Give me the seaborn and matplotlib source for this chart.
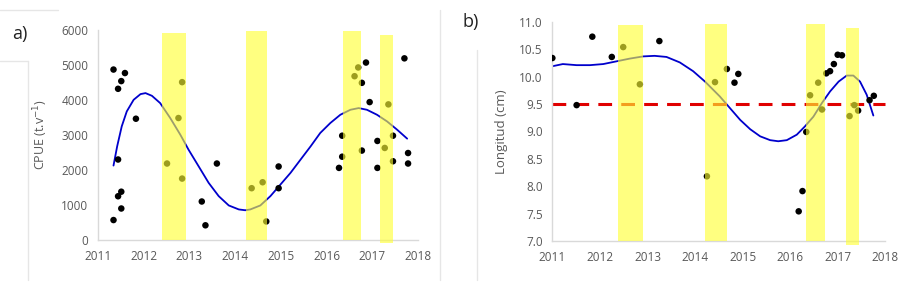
import numpy as np
import pandas as pd
import matplotlib.pyplot as plt
import seaborn as sns
from matplotlib.lines import Line2D

# ---------------- panel a) CPUE ----------------
a_year = [2011.34, 2011.44, 2011.51, 2011.59, 2011.44, 2011.34, 2011.44, 2011.51, 2011.51,
          2011.83, 2012.51, 2012.76, 2012.84, 2012.84, 2013.27, 2013.35, 2013.60,
          2014.36, 2014.60, 2014.68, 2014.95, 2014.95, 2016.27, 2016.34, 2016.34,
          2016.61, 2016.69, 2016.77, 2016.77, 2016.86, 2016.94, 2017.11, 2017.11,
          2017.27, 2017.35, 2017.45, 2017.45, 2017.70, 2017.78, 2017.78]
a_cpue = [4870, 4320, 4540, 4770, 2300, 570, 1250, 1380, 900,
          3465, 2185, 3485, 4510, 1755, 1100, 420, 2185,
          1480, 1650, 530, 2100, 1480, 2060, 2980, 2380,
          4680, 4930, 4490, 2555, 5070, 3940, 2830, 2060,
          2630, 3875, 2980, 2250, 5190, 2485, 2185]

a_trend_x = [2011.34, 2011.42, 2011.52, 2011.63, 2011.78, 2011.93, 2012.04, 2012.18,
             2012.36, 2012.58, 2012.80, 2012.98, 2013.20, 2013.42, 2013.64, 2013.86,
             2014.08, 2014.22, 2014.33, 2014.55, 2014.77, 2014.99, 2015.21, 2015.43,
             2015.65, 2015.86, 2016.08, 2016.30, 2016.52, 2016.70, 2016.88, 2017.10,
             2017.32, 2017.54, 2017.76]
a_trend_y = [2127, 2677, 3247, 3674, 4006, 4168, 4197, 4120,
             3912, 3485, 3010, 2582, 2108, 1633, 1253, 987,
             873, 850, 873, 987, 1253, 1585, 1918, 2298,
             2677, 3058, 3342, 3579, 3721, 3769, 3721, 3579,
             3389, 3152, 2896]

a_band_start = [2012.39, 2014.24, 2016.36, 2017.16]
a_band_end = [2012.93, 2014.70, 2016.76, 2017.45]
a_band_bottom = [0, 0, 0, -95]
a_band_top = [5925, 5970, 5970, 5850]

# ---------------- panel b) Longitud ----------------
b_year = [2011.00, 2011.51, 2011.84, 2012.25, 2012.49, 2012.84, 2013.25, 2014.25,
          2014.42, 2014.67, 2014.83, 2014.91, 2016.18, 2016.26, 2016.34, 2016.42,
          2016.59, 2016.67, 2016.76, 2016.84, 2016.92, 2017.00, 2017.09, 2017.25,
          2017.35, 2017.43, 2017.67, 2017.76]
b_len = [10.34, 9.48, 10.73, 10.36, 10.54, 9.86, 10.65, 8.18,
         9.90, 10.14, 9.89, 10.05, 7.54, 7.91, 8.99, 9.66,
         9.89, 9.40, 10.06, 10.10, 10.23, 10.40, 10.39, 9.28,
         9.48, 9.38, 9.57, 9.65]

b_trend_x = [2011.00, 2011.22, 2011.51, 2011.79, 2012.07, 2012.35, 2012.63, 2012.91,
             2013.15, 2013.40, 2013.68, 2013.96, 2014.21, 2014.52, 2014.73, 2014.95,
             2015.16, 2015.37, 2015.58, 2015.75, 2015.93, 2016.14, 2016.31, 2016.49,
             2016.67, 2016.84, 2017.02, 2017.19, 2017.33, 2017.47, 2017.61, 2017.75]
b_trend_y = [10.19, 10.23, 10.21, 10.21, 10.23, 10.28, 10.33, 10.37,
             10.38, 10.36, 10.26, 10.10, 9.91, 9.64, 9.43, 9.21,
             9.04, 8.91, 8.84, 8.82, 8.84, 8.94, 9.09, 9.27,
             9.52, 9.73, 9.91, 10.02, 10.02, 9.91, 9.67, 9.29]

b_band_start = [2012.37, 2014.22, 2016.34, 2017.17]
b_band_end = [2012.91, 2014.67, 2016.73, 2017.44]
b_band_bottom = [7.0, 7.0, 7.0, 6.93]
b_band_top = [10.95, 10.97, 10.97, 10.89]

ref_len = 9.5
years = [2011, 2012, 2013, 2014, 2015, 2016, 2017, 2018]

sns.set_theme(style="white")
plt.rcParams['font.family'] = ['Open Sans', 'DejaVu Sans']

fig = plt.figure(figsize=(9.07, 3.0), dpi=100)
ax_a = fig.add_axes([0.108, 0.20, 0.353, 0.70])
ax_b = fig.add_axes([0.609, 0.197, 0.367, 0.73])

GRAY = "#595959"
AXIS = "#d9d9d9"
YELLOW = "#ffff33"


def style_axes(ax):
    for s in ["top", "right"]:
        ax.spines[s].set_visible(False)
    for s in ["left", "bottom"]:
        ax.spines[s].set_color(AXIS)
        ax.spines[s].set_linewidth(1.0)
    ax.tick_params(axis="both", length=0, labelsize=8.5, labelcolor=GRAY, pad=7)
    ax.set_xlim(2011, 2018)
    ax.set_xticks(years)


def draw_bands(ax, start, end, bottom, top):
    widths = [e - s for s, e in zip(start, end)]
    heights = [t - b for t, b in zip(top, bottom)]
    ax.bar(start, heights, width=widths, bottom=bottom, align="edge",
           color=YELLOW, alpha=0.62, linewidth=0, zorder=5, clip_on=False)


# panel a
df_a = pd.DataFrame({"year": a_year, "cpue": a_cpue})
sns.scatterplot(data=df_a, x="year", y="cpue", ax=ax_a, color="black", s=22,
                edgecolor="none", zorder=3)
sns.lineplot(x=a_trend_x, y=a_trend_y, ax=ax_a, color="#0000cc", linewidth=1.3,
             sort=True, zorder=2)
draw_bands(ax_a, a_band_start, a_band_end, a_band_bottom, a_band_top)
style_axes(ax_a)
ax_a.set_ylim(0, 6000)
ax_a.set_yticks(range(0, 6001, 1000))
ax_a.set_xlabel("")
ax_a.set_ylabel(r"CPUE (t.v$^{-1}$)", fontsize=9, color=GRAY, labelpad=8)

# panel b
df_b = pd.DataFrame({"year": b_year, "len": b_len})
sns.scatterplot(data=df_b, x="year", y="len", ax=ax_b, color="black", s=22,
                edgecolor="none", zorder=3)
sns.lineplot(x=b_trend_x, y=b_trend_y, ax=ax_b, color="#0000cc", linewidth=1.3,
             sort=True, zorder=2)
ax_b.plot([2011, 2018], [ref_len, ref_len], color="#e00000", linewidth=2.2,
          dashes=(4.5, 3), zorder=2.5, clip_on=False)
draw_bands(ax_b, b_band_start, b_band_end, b_band_bottom, b_band_top)
style_axes(ax_b)
ax_b.set_ylim(7.0, 11.0)
ax_b.set_yticks(np.arange(7.0, 11.01, 0.5))
ax_b.set_yticklabels([f"{v:.1f}" for v in np.arange(7.0, 11.01, 0.5)])
ax_b.set_xlabel("")
ax_b.set_ylabel("Longitud (cm)", fontsize=9.5, color=GRAY, labelpad=8)

# panel letters
fig.text(0.013, 0.885, "a)", fontsize=13, color="#222222", va="center")
fig.text(0.510, 0.925, "b)", fontsize=13, color="#222222", va="center")

# faint frame lines from pasted panels
LINE = "#e6e6e6"
W, H = 907, 300
frame = [((0, 58), (10, 10)), ((0, 28), (61, 61)), ((28, 28), (61, 280)),
         ((440, 440), (10, 280)), ((477, 477), (50, 280))]
for xs, ys in frame:
    fig.add_artist(Line2D([x / W for x in xs], [1 - y / H for y in ys],
                          color=LINE, linewidth=1.0, transform=fig.transFigure))

fig.savefig("out.png", dpi=100)
